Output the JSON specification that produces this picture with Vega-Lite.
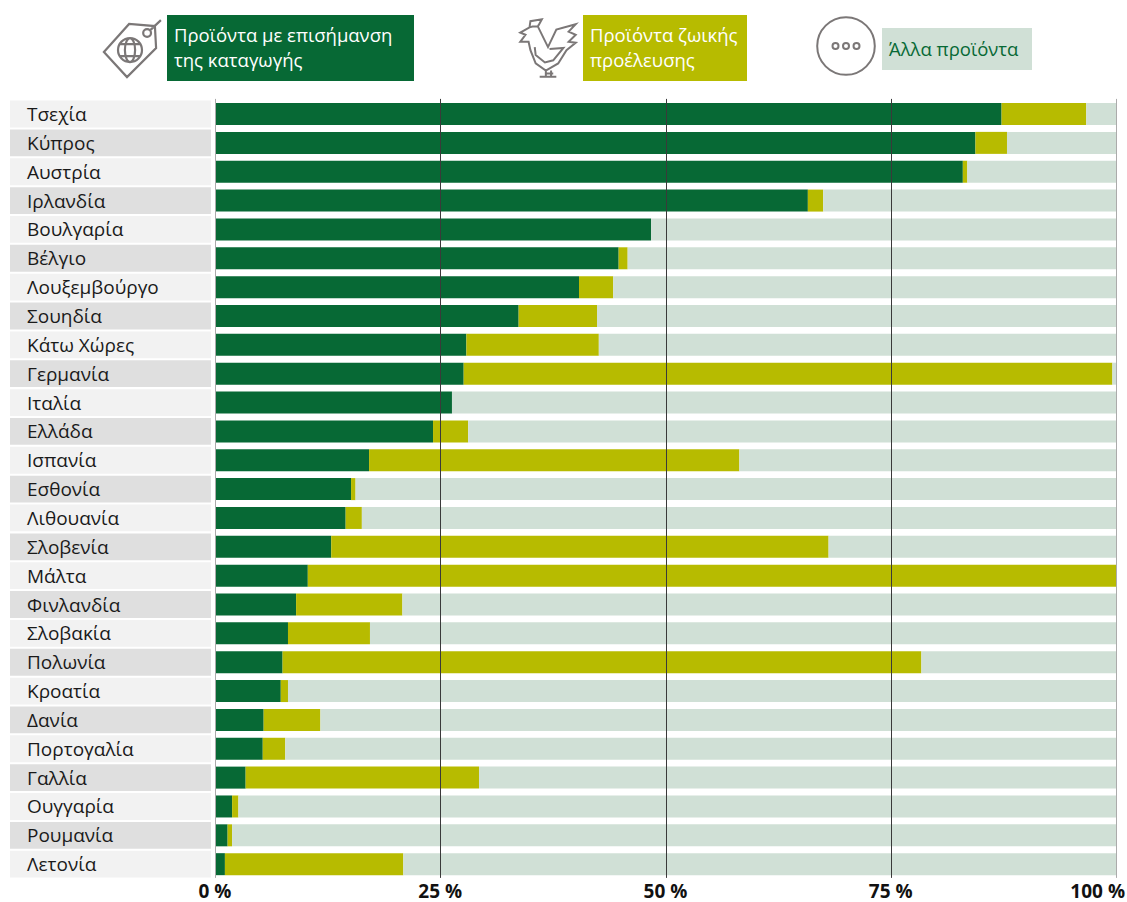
{"$schema":"https://vega.github.io/schema/vega-lite/v6.json","padding":{"left":10,"top":0,"right":0,"bottom":0},"background":"white","spacing":0,"config":{"view":{"stroke":null},"font":"Open Sans","concat":{"spacing":0}},
"datasets":{"legend":[{"key":"origin","label":"Προϊόντα με επισήμανση\nτης καταγωγής"},{"key":"animal","label":"Προϊόντα ζωικής\nπροέλευσης"},{"key":"other","label":"Άλλα προϊόντα"}],
"ticks":[{"tick":0,"label":"0 %"},{"tick":25,"label":"25 %"},{"tick":50,"label":"50 %"},{"tick":75,"label":"75 %"},{"tick":100,"label":"100 %"}],
"countries":[{"country":"Τσεχία"},{"country":"Κύπρος"},{"country":"Αυστρία"},{"country":"Ιρλανδία"},{"country":"Βουλγαρία"},{"country":"Βέλγιο"},{"country":"Λουξεμβούργο"},{"country":"Σουηδία"},{"country":"Κάτω Χώρες"},{"country":"Γερμανία"},{"country":"Ιταλία"},{"country":"Ελλάδα"},{"country":"Ισπανία"},{"country":"Εσθονία"},{"country":"Λιθουανία"},{"country":"Σλοβενία"},{"country":"Μάλτα"},{"country":"Φινλανδία"},{"country":"Σλοβακία"},{"country":"Πολωνία"},{"country":"Κροατία"},{"country":"Δανία"},{"country":"Πορτογαλία"},{"country":"Γαλλία"},{"country":"Ουγγαρία"},{"country":"Ρουμανία"},{"country":"Λετονία"}],
"shares":[
{"country":"Τσεχία","key":"origin","rank":1,"value":87.3},{"country":"Τσεχία","key":"animal","rank":2,"value":9.4},{"country":"Τσεχία","key":"other","rank":3,"value":3.3},
{"country":"Κύπρος","key":"origin","rank":1,"value":84.4},{"country":"Κύπρος","key":"animal","rank":2,"value":3.5},{"country":"Κύπρος","key":"other","rank":3,"value":12.1},
{"country":"Αυστρία","key":"origin","rank":1,"value":83.0},{"country":"Αυστρία","key":"animal","rank":2,"value":0.5},{"country":"Αυστρία","key":"other","rank":3,"value":16.5},
{"country":"Ιρλανδία","key":"origin","rank":1,"value":65.8},{"country":"Ιρλανδία","key":"animal","rank":2,"value":1.7},{"country":"Ιρλανδία","key":"other","rank":3,"value":32.5},
{"country":"Βουλγαρία","key":"origin","rank":1,"value":48.4},{"country":"Βουλγαρία","key":"animal","rank":2,"value":0},{"country":"Βουλγαρία","key":"other","rank":3,"value":51.6},
{"country":"Βέλγιο","key":"origin","rank":1,"value":44.8},{"country":"Βέλγιο","key":"animal","rank":2,"value":1.0},{"country":"Βέλγιο","key":"other","rank":3,"value":54.2},
{"country":"Λουξεμβούργο","key":"origin","rank":1,"value":40.4},{"country":"Λουξεμβούργο","key":"animal","rank":2,"value":3.8},{"country":"Λουξεμβούργο","key":"other","rank":3,"value":55.8},
{"country":"Σουηδία","key":"origin","rank":1,"value":33.7},{"country":"Σουηδία","key":"animal","rank":2,"value":8.7},{"country":"Σουηδία","key":"other","rank":3,"value":57.6},
{"country":"Κάτω Χώρες","key":"origin","rank":1,"value":27.9},{"country":"Κάτω Χώρες","key":"animal","rank":2,"value":14.7},{"country":"Κάτω Χώρες","key":"other","rank":3,"value":57.4},
{"country":"Γερμανία","key":"origin","rank":1,"value":27.6},{"country":"Γερμανία","key":"animal","rank":2,"value":72.0},{"country":"Γερμανία","key":"other","rank":3,"value":0.4},
{"country":"Ιταλία","key":"origin","rank":1,"value":26.3},{"country":"Ιταλία","key":"animal","rank":2,"value":0},{"country":"Ιταλία","key":"other","rank":3,"value":73.7},
{"country":"Ελλάδα","key":"origin","rank":1,"value":24.2},{"country":"Ελλάδα","key":"animal","rank":2,"value":3.9},{"country":"Ελλάδα","key":"other","rank":3,"value":71.9},
{"country":"Ισπανία","key":"origin","rank":1,"value":17.1},{"country":"Ισπανία","key":"animal","rank":2,"value":41.1},{"country":"Ισπανία","key":"other","rank":3,"value":41.8},
{"country":"Εσθονία","key":"origin","rank":1,"value":15.1},{"country":"Εσθονία","key":"animal","rank":2,"value":0.5},{"country":"Εσθονία","key":"other","rank":3,"value":84.4},
{"country":"Λιθουανία","key":"origin","rank":1,"value":14.5},{"country":"Λιθουανία","key":"animal","rank":2,"value":1.8},{"country":"Λιθουανία","key":"other","rank":3,"value":83.7},
{"country":"Σλοβενία","key":"origin","rank":1,"value":12.9},{"country":"Σλοβενία","key":"animal","rank":2,"value":55.2},{"country":"Σλοβενία","key":"other","rank":3,"value":31.9},
{"country":"Μάλτα","key":"origin","rank":1,"value":10.3},{"country":"Μάλτα","key":"animal","rank":2,"value":89.7},{"country":"Μάλτα","key":"other","rank":3,"value":0},
{"country":"Φινλανδία","key":"origin","rank":1,"value":9.0},{"country":"Φινλανδία","key":"animal","rank":2,"value":11.8},{"country":"Φινλανδία","key":"other","rank":3,"value":79.2},
{"country":"Σλοβακία","key":"origin","rank":1,"value":8.1},{"country":"Σλοβακία","key":"animal","rank":2,"value":9.1},{"country":"Σλοβακία","key":"other","rank":3,"value":82.8},
{"country":"Πολωνία","key":"origin","rank":1,"value":7.5},{"country":"Πολωνία","key":"animal","rank":2,"value":70.9},{"country":"Πολωνία","key":"other","rank":3,"value":21.6},
{"country":"Κροατία","key":"origin","rank":1,"value":7.3},{"country":"Κροατία","key":"animal","rank":2,"value":0.8},{"country":"Κροατία","key":"other","rank":3,"value":91.9},
{"country":"Δανία","key":"origin","rank":1,"value":5.4},{"country":"Δανία","key":"animal","rank":2,"value":6.3},{"country":"Δανία","key":"other","rank":3,"value":88.3},
{"country":"Πορτογαλία","key":"origin","rank":1,"value":5.3},{"country":"Πορτογαλία","key":"animal","rank":2,"value":2.5},{"country":"Πορτογαλία","key":"other","rank":3,"value":92.2},
{"country":"Γαλλία","key":"origin","rank":1,"value":3.4},{"country":"Γαλλία","key":"animal","rank":2,"value":25.9},{"country":"Γαλλία","key":"other","rank":3,"value":70.7},
{"country":"Ουγγαρία","key":"origin","rank":1,"value":1.9},{"country":"Ουγγαρία","key":"animal","rank":2,"value":0.7},{"country":"Ουγγαρία","key":"other","rank":3,"value":97.4},
{"country":"Ρουμανία","key":"origin","rank":1,"value":1.4},{"country":"Ρουμανία","key":"animal","rank":2,"value":0.5},{"country":"Ρουμανία","key":"other","rank":3,"value":98.1},
{"country":"Λετονία","key":"origin","rank":1,"value":1.1},{"country":"Λετονία","key":"animal","rank":2,"value":19.8},{"country":"Λετονία","key":"other","rank":3,"value":79.1}
]},
"vconcat":[
{"width":1117,"height":95,"data":{"name":"legend"},
"encoding":{"color":{"field":"key","type":"nominal","legend":null,"scale":{"domain":["origin","animal","other"],"range":["#076935","#B7BB00","#D0E0D6"]}}},
"layer":[
{"transform":[{"filter":"datum.key==='origin'"}],"mark":{"type":"rect"},"encoding":{"x":{"datum":167,"type":"quantitative","axis":null,"scale":{"domain":[10,1127],"nice":false,"zero":false}},"x2":{"datum":414},"y":{"datum":15,"type":"quantitative","axis":null,"scale":{"domain":[95,0],"nice":false,"zero":false}},"y2":{"datum":81}}},
{"transform":[{"filter":"datum.key==='animal'"}],"mark":{"type":"rect"},"encoding":{"x":{"datum":583,"type":"quantitative","axis":null},"x2":{"datum":747},"y":{"datum":15,"type":"quantitative","axis":null},"y2":{"datum":81}}},
{"transform":[{"filter":"datum.key==='other'"}],"mark":{"type":"rect"},"encoding":{"x":{"datum":882,"type":"quantitative","axis":null},"x2":{"datum":1032},"y":{"datum":28,"type":"quantitative","axis":null},"y2":{"datum":70}}},
{"transform":[{"filter":"datum.key==='origin'"}],"mark":{"type":"text","align":"left","baseline":"middle","fontSize":18.5,"lineBreak":"\n","lineHeight":25},"encoding":{"color":{"value":"white"},"text":{"field":"label","type":"nominal"},"x":{"datum":174,"type":"quantitative","axis":null},"y":{"datum":36,"type":"quantitative","axis":null}}},
{"transform":[{"filter":"datum.key==='animal'"}],"mark":{"type":"text","align":"left","baseline":"middle","fontSize":18.5,"lineBreak":"\n","lineHeight":25},"encoding":{"color":{"value":"white"},"text":{"field":"label","type":"nominal"},"x":{"datum":590,"type":"quantitative","axis":null},"y":{"datum":36,"type":"quantitative","axis":null}}},
{"transform":[{"filter":"datum.key==='other'"}],"mark":{"type":"text","align":"left","baseline":"middle","fontSize":18.5},"encoding":{"color":{"value":"#076935"},"text":{"field":"label","type":"nominal"},"x":{"datum":889,"type":"quantitative","axis":null},"y":{"datum":50,"type":"quantitative","axis":null}}},
{"transform":[{"filter":"datum.key==='origin'"}],"mark":{"type":"point","filled":false,"opacity":1,"strokeWidth":2.2,"size":3600,"fill":null,"shape":"M-.97,.13 L-.13,-.8 L.73,-.73 L.77,0 L-.2,.97 Z M.34,-.5 a.13,.13 0 1 0 .26,0 a.13,.13 0 1 0 -.26,0 Z M.56,-.58 L.93,-.93 M-.5,.07 a.4,.4 0 1 0 .8,0 a.4,.4 0 1 0 -.8,0 Z M-.27,.07 a.17,.4 0 1 0 .34,0 a.17,.4 0 1 0 -.34,0 Z M-.42,-.13 L.22,-.13 M-.42,.27 L.22,.27"},"encoding":{"color":{"value":null},"stroke":{"value":"#7b7777"},"x":{"datum":133,"type":"quantitative","axis":null},"y":{"datum":48,"type":"quantitative","axis":null}}},
{"transform":[{"filter":"datum.key==='animal'"}],"mark":{"type":"point","filled":false,"opacity":1,"strokeWidth":2,"size":3800,"fill":null,"shape":"M-.5,-.7 L-.33,-.7 L0,-.03 L.27,-.6 L.9,-.77 L.67,-.53 L.9,-.43 L.67,-.2 L.9,-.17 L.6,.07 L.33,.5 L-.07,.73 L-.4,.5 L-.57,.07 L-.63,-.2 L-.9,-.2 L-.73,-.43 L-.9,-.5 L-.6,-.67 Z M-.6,-.67 L-.57,-.87 L-.2,-.93 L-.3,-.75 L-.33,-.7 M-.43,-.03 L-.4,.23 L-.1,.47 L.17,.4 L.5,0 L.05,.03 M-.07,.73 V.93 M.1,.73 V.93 M-.27,.93 H.27 M-.1,.83 H.17"},"encoding":{"color":{"value":null},"stroke":{"value":"#7b7777"},"x":{"datum":548,"type":"quantitative","axis":null},"y":{"datum":48,"type":"quantitative","axis":null}}},
{"transform":[{"filter":"datum.key==='other'"}],"mark":{"type":"point","filled":false,"opacity":1,"strokeWidth":2,"size":3600,"fill":null,"shape":"M-.96,0 a.96,.96 0 1 0 1.92,0 a.96,.96 0 1 0 -1.92,0 Z M-.45,0 a.1,.1 0 1 0 .2,0 a.1,.1 0 1 0 -.2,0 Z M-.1,0 a.1,.1 0 1 0 .2,0 a.1,.1 0 1 0 -.2,0 Z M.25,0 a.1,.1 0 1 0 .2,0 a.1,.1 0 1 0 -.2,0 Z"},"encoding":{"color":{"value":null},"stroke":{"value":"#7b7777"},"x":{"datum":846,"type":"quantitative","axis":null},"y":{"datum":46,"type":"quantitative","axis":null}}}
]},
{"spacing":4,"hconcat":[
{"width":201,"height":787,"data":{"name":"countries"},
"encoding":{"y":{"field":"country","type":"nominal","sort":null,"axis":null,"scale":{"range":[4.6,783.6],"paddingInner":0.07,"paddingOuter":0.035}}},
"layer":[
{"mark":{"type":"bar"},"encoding":{"x":{"datum":0,"type":"quantitative","axis":null,"scale":{"domain":[0,1],"nice":false}},"x2":{"datum":1},"fill":{"field":"country","type":"nominal","sort":null,"legend":null,"scale":{"type":"ordinal","range":["#F2F2F2","#DFDFDF"]}}}},
{"mark":{"type":"text","align":"left","baseline":"middle","dx":17,"dy":1,"fontSize":19,"color":"#1a1a1a"},"encoding":{"x":{"datum":0,"type":"quantitative","axis":null},"text":{"field":"country","type":"nominal"}}}
]},
{"width":901,"height":787,"data":{"name":"shares"},
"mark":{"type":"bar"},
"encoding":{
"y":{"field":"country","type":"nominal","sort":null,"axis":null,"scale":{"range":[4.6,783.6],"paddingInner":0.2375,"paddingOuter":0.11875}},
"x":{"field":"value","type":"quantitative","stack":"zero","scale":{"domain":[0,100],"nice":false},
"axis":{"title":null,"values":[0,25,50,75,100],"domain":false,"ticks":false,"labels":false,"grid":true,"zindex":1,"gridOpacity":1,"gridWidth":1,"gridColor":{"condition":{"test":"datum.value===0||datum.value===100","value":"#ababab"},"value":"#3a3a3a"},"encoding":{"grid":{"update":{"y2":{"signal":"datum.value===0||datum.value===100?-787:-783"}}}}}},
"color":{"field":"key","type":"nominal","legend":null,"scale":{"domain":["origin","animal","other"],"range":["#076935","#B7BB00","#D0E0D6"]}},
"order":{"field":"rank","type":"quantitative"}}}
]},
{"width":1117,"height":20,"data":{"name":"ticks"},
"encoding":{"x":{"field":"tick","type":"quantitative","axis":null,"scale":{"domain":[-22.75,101.22],"nice":false,"zero":false}},"text":{"field":"label","type":"nominal"}},
"layer":[
{"transform":[{"filter":"datum.tick<100"}],"mark":{"type":"text","align":"center","baseline":"middle","fontSize":19,"fontWeight":"bold","color":"#111111"}},
{"transform":[{"filter":"datum.tick===100"}],"mark":{"type":"text","align":"right","baseline":"middle","dx":9,"fontSize":19,"fontWeight":"bold","color":"#111111"}}
]}
]}
